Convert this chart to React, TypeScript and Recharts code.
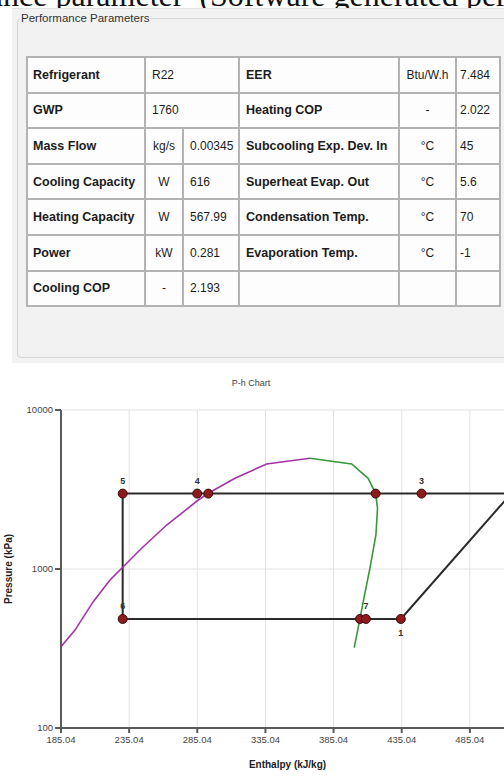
import React from "react";
import { ComposedChart, Line, XAxis, YAxis, CartesianGrid } from "recharts";

// ---- Table data ----
const leftLabels = ["Refrigerant", "GWP", "Mass Flow", "Cooling Capacity", "Heating Capacity", "Power", "Cooling COP"];
const leftUnits = ["", "", "kg/s", "W", "W", "kW", "-"];
const leftValues = ["R22", "1760", "0.00345", "616", "567.99", "0.281", "2.193"];
const rightLabels = ["EER", "Heating COP", "Subcooling Exp. Dev. In", "Superheat Evap. Out", "Condensation Temp.", "Evaporation Temp.", ""];
const rightUnits = ["Btu/W.h", "-", "°C", "°C", "°C", "°C", ""];
const rightValues = ["7.484", "2.022", "45", "5.6", "70", "-1", ""];

// ---- Chart data ----
const xTicks = [185.04, 235.04, 285.04, 335.04, 385.04, 435.04, 485.04];
const yTicks = [100, 1000, 10000];

// saturated liquid line (purple)
const liquidH = [185.04, 195.3, 208.7, 221.0, 230.7, 244.2, 262.6, 285.8, 293.1, 312.7, 335.9, 367.7];
const liquidP = [324.6, 413, 623, 853, 1034, 1350, 1891, 2716, 2994, 3719, 4575, 4969];
// saturated vapour line (green)
const vaporH = [367.7, 398.3, 410.4, 415.9, 417.3, 416.1, 411.7, 406.8, 404.4, 400.2];
const vaporP = [4969, 4575, 3719, 2994, 2408, 1636, 1010, 623, 485, 320];
// cycle state points
const stateNames = ["1", "2", "3", "", "", "4", "5", "6", "", "7"];
const stateH = [434.4, 515.3, 449.6, 415.9, 293.1, 285.0, 230.3, 230.3, 404.4, 408.8];
const stateP = [485, 2980, 2980, 2980, 2980, 2980, 2980, 485, 485, 485];

const liquidData = liquidH.map((h, i) => ({ h, p: liquidP[i] }));
const vaporData = vaporH.map((h, i) => ({ h, p: vaporP[i] }));
const stateData = stateH.map((h, i) => ({ h, p: stateP[i], name: stateNames[i] }));
const cycleData = [...stateData, stateData[0]];

const FONT = "'Liberation Sans', Arial, sans-serif";

const renderState = (props: any) => {
  const { cx, cy, payload, index } = props;
  if (cx == null || cy == null) return <g key={`s${index}`} />;
  const below = payload.name === "1";
  return (
    <g key={`s${index}`}>
      <circle cx={cx} cy={cy} r={4.5} fill="#8e1b1b" stroke="#3a0c0c" strokeWidth={1} />
      {payload.name ? (
        <text
          x={cx}
          y={below ? cy + 17 : cy - 10}
          textAnchor="middle"
          fontSize={9}
          fontWeight="bold"
          fill="#333"
          fontFamily={FONT}
        >
          {payload.name}
        </text>
      ) : null}
    </g>
  );
};

const cellBase: React.CSSProperties = {
  border: "2px solid #b3b3b3",
  height: 32,
  padding: 0,
  fontSize: 12,
  color: "#1c1c1c",
  background: "#fdfdfd",
  whiteSpace: "nowrap",
  overflow: "hidden",
};

export default function App() {
  return (
    <div
      style={{
        position: "absolute",
        left: 0,
        top: 0,
        width: 504,
        height: 776,
        overflow: "hidden",
        background: "#fff",
        fontFamily: FONT,
      }}
    >
      {/* cut-off caption text above */}
      <div
        style={{
          position: "absolute",
          left: -116,
          top: -21,
          fontFamily: "'Liberation Serif', 'Times New Roman', serif",
          fontSize: 32,
          lineHeight: "32px",
          whiteSpace: "nowrap",
          color: "#111",
        }}
      >
        Performance parameter&nbsp;&nbsp;(Software generated performance parameters)
      </div>

      {/* panel */}
      <div
        style={{
          position: "absolute",
          left: 12,
          top: 8,
          width: 540,
          height: 354,
          background: "#f2f2f2",
          borderTop: "1px solid #e2e2e2",
        }}
      >
        <div
          style={{
            position: "absolute",
            left: 5,
            top: 9,
            width: 560,
            height: 338,
            border: "1px solid #d6d6d6",
            borderRadius: 4,
          }}
        />
        <div
          style={{
            position: "absolute",
            left: 8,
            top: 1,
            padding: "0 1px",
            background: "#f2f2f2",
            fontSize: 11.5,
            lineHeight: "16px",
            color: "#333",
          }}
        >
          Performance Parameters
        </div>
        <table
          style={{
            position: "absolute",
            left: 14,
            top: 47,
            borderCollapse: "collapse",
            tableLayout: "fixed",
            width: 475,
          }}
        >
          <colgroup>
            <col style={{ width: 118 }} />
            <col style={{ width: 38 }} />
            <col style={{ width: 56 }} />
            <col style={{ width: 160 }} />
            <col style={{ width: 57 }} />
            <col style={{ width: 44 }} />
          </colgroup>
          <tbody>
            {leftLabels.map((lab, i) => (
              <tr key={i} style={{ height: 35.6 }}>
                <td style={{ ...cellBase, fontWeight: "bold", fontSize: 12.5, paddingLeft: 5 }}>{lab}</td>
                {leftUnits[i] === "" ? (
                  <td colSpan={2} style={{ ...cellBase, paddingLeft: 6 }}>{leftValues[i]}</td>
                ) : (
                  <>
                    <td style={{ ...cellBase, textAlign: "center" }}>{leftUnits[i]}</td>
                    <td style={{ ...cellBase, paddingLeft: 6 }}>{leftValues[i]}</td>
                  </>
                )}
                <td style={{ ...cellBase, fontWeight: "bold", fontSize: 12.5, paddingLeft: 6 }}>{rightLabels[i]}</td>
                <td style={{ ...cellBase, textAlign: "center" }}>{rightUnits[i]}</td>
                <td style={{ ...cellBase, paddingLeft: 3 }}>{rightValues[i]}</td>
              </tr>
            ))}
          </tbody>
        </table>
      </div>

      {/* chart title */}
      <div
        style={{
          position: "absolute",
          left: 201,
          width: 100,
          top: 378,
          textAlign: "center",
          fontSize: 9,
          color: "#444",
        }}
      >
        P-h Chart
      </div>

      <div style={{ position: "absolute", left: 0, top: 360 }}>
        <ComposedChart
          width={560}
          height={416}
          margin={{ top: 50, right: 22, bottom: 0, left: 0 }}
          style={{ fontFamily: FONT }}
        >
          <CartesianGrid stroke="#e2e2e2" strokeWidth={1} />
          <XAxis
            dataKey="h"
            type="number"
            domain={[185.04, 535.04]}
            ticks={xTicks}
            allowDataOverflow
            height={48}
            tickFormatter={(v: number) => v.toFixed(2)}
            tick={{ fontSize: 9.5, fill: "#444" }}
            tickSize={5}
            tickMargin={3}
            stroke="#5a5a5a"
            strokeWidth={2}
            label={{
              value: "Enthalpy (kJ/kg)",
              position: "insideBottom",
              offset: 8,
              dx: -12,
              style: { fontSize: 10, fontWeight: "bold", fill: "#222" },
            }}
          />
          <YAxis
            dataKey="p"
            type="number"
            scale="log"
            domain={[100, 10000]}
            ticks={yTicks}
            allowDataOverflow
            width={61}
            tick={{ fontSize: 9.5, fill: "#444" }}
            tickSize={6}
            tickMargin={2}
            stroke="#5a5a5a"
            strokeWidth={2}
            label={{
              value: "Pressure (kPa)",
              angle: -90,
              position: "center",
              dx: -22,
              style: { fontSize: 10, fontWeight: "bold", fill: "#222" },
            }}
          />
          <Line
            data={cycleData}
            dataKey="p"
            type="linear"
            stroke="#2b2b2b"
            strokeWidth={2}
            dot={false}
            activeDot={false}
            isAnimationActive={false}
          />
          <Line
            data={liquidData}
            dataKey="p"
            type="linear"
            stroke="#a234a8"
            strokeWidth={1.6}
            dot={false}
            activeDot={false}
            isAnimationActive={false}
          />
          <Line
            data={vaporData}
            dataKey="p"
            type="linear"
            stroke="#35983a"
            strokeWidth={1.6}
            dot={false}
            activeDot={false}
            isAnimationActive={false}
          />
          <Line
            data={stateData}
            dataKey="p"
            type="linear"
            stroke="none"
            strokeWidth={0}
            dot={renderState}
            activeDot={false}
            isAnimationActive={false}
          />
        </ComposedChart>
      </div>
    </div>
  );
}
